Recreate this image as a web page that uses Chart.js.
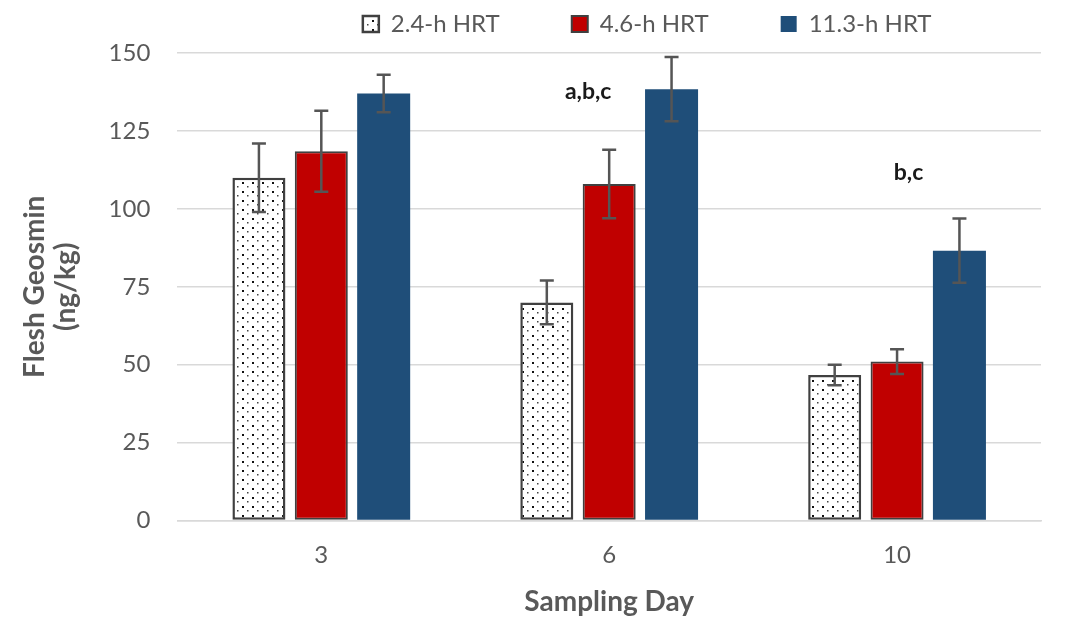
<!DOCTYPE html>
<html>
<head>
<meta charset="utf-8">
<script src="https://cdn.jsdelivr.net/npm/chart.js@4.4.1/dist/chart.umd.min.js"></script>
<style>
  html, body { margin: 0; padding: 0; background: #fff; }
  #wrap { width: 1077px; height: 620px; }
</style>
</head>
<body>
<div id="wrap"><canvas id="chart"></canvas></div>
<script>
// data
const days = ['3', '6', '10'];
const seriesNames = ['2.4-h HRT', '4.6-h HRT', '11.3-h HRT'];
const hrt24 = [110, 70, 46.7];
const hrt46 = [118.5, 108, 51];
const hrt113 = [137, 138.4, 86.6];
const err24 = [11, 7, 3.3];
const err46 = [13, 11, 4];
const err113 = [6, 10.3, 10.3];
const yTicks = [0, 25, 50, 75, 100, 125, 150];
// significance letters: text, category position, y value
const sigText = ['a,b,c', 'b,c'];
const sigPos = [0.927, 2.04];
const sigVal = [137.5, 111.7];

const grey = '#595959';

// dotted fill for the 2.4-h bars
function dotPattern() {
  const c = document.createElement('canvas');
  c.width = 10; c.height = 9;
  const g = c.getContext('2d');
  g.fillStyle = '#fff';
  g.fillRect(0, 0, 10, 9);
  g.fillStyle = '#111';
  g.fillRect(2, 2, 2, 2);
  g.fillStyle = '#444';
  g.fillRect(7, 6, 1.5, 1.5);
  return g.createPattern(c, 'repeat');
}
const dots = dotPattern();

// nudge the legend: it sits right of centre and a little higher in the original
const legendNudge = {
  id: 'legendNudge',
  afterLayout(chart) {
    const lg = chart.legend;
    lg.left += 38; lg.right += 38;
    lg.top -= 7; lg.bottom -= 7;
  }
};

const errorBars = {
  id: 'errorBars',
  afterDatasetsDraw(chart) {
    const ctx = chart.ctx;
    const y = chart.scales.y;
    const errs = [err24, err46, err113];
    ctx.save();
    ctx.strokeStyle = '#555';
    ctx.lineWidth = 2.5;
    chart.data.datasets.forEach((ds, i) => {
      chart.getDatasetMeta(i).data.forEach((bar, j) => {
        const v = ds.data[j], e = errs[i][j];
        const top = y.getPixelForValue(v + e);
        const bot = y.getPixelForValue(v - e);
        ctx.beginPath();
        ctx.moveTo(bar.x, top); ctx.lineTo(bar.x, bot);
        ctx.moveTo(bar.x - 7, top); ctx.lineTo(bar.x + 7, top);
        ctx.moveTo(bar.x - 7, bot); ctx.lineTo(bar.x + 7, bot);
        ctx.stroke();
      });
    });
    ctx.restore();
  }
};

const sigLabels = {
  id: 'sigLabels',
  afterDraw(chart) {
    const ctx = chart.ctx;
    ctx.save();
    ctx.font = 'bold 23px Lato';
    ctx.fillStyle = '#1a1a1a';
    ctx.textAlign = 'center';
    ctx.textBaseline = 'middle';
    sigText.forEach((t, i) => {
      ctx.fillText(t, chart.scales.x.getPixelForValue(sigPos[i]), chart.scales.y.getPixelForValue(sigVal[i]));
    });
    ctx.restore();
  }
};

new Chart(document.getElementById('chart'), {
  type: 'bar',
  data: {
    labels: days,
    datasets: [
      { label: seriesNames[0], data: hrt24, backgroundColor: dots, borderColor: '#404040', borderWidth: 2.5, borderSkipped: false },
      { label: seriesNames[1], data: hrt46, backgroundColor: '#C00000', borderColor: '#404040', borderWidth: 2, borderSkipped: false },
      { label: seriesNames[2], data: hrt113, backgroundColor: '#1F4E79', borderWidth: 0 }
    ]
  },
  options: {
    responsive: true,
    maintainAspectRatio: false,
    animation: false,
    datasets: { bar: { categoryPercentage: 0.65, barPercentage: 0.85 } },
    layout: { padding: { left: 16, right: 36, top: -53, bottom: -3 } },
    plugins: {
      legend: {
        position: 'top',
        fullSize: false,
        labels: {
          boxWidth: 16, boxHeight: 16, padding: 72,
          color: grey,
          font: { family: 'Lato', size: 24 }
        }
      },
      tooltip: { enabled: false }
    },
    scales: {
      x: {
        grid: { display: false },
        border: { display: true, color: '#d9d9d9', width: 1.5 },
        ticks: { color: grey, font: { family: 'Lato', size: 24 }, padding: 12 },
        title: { display: true, text: 'Sampling Day', color: grey, font: { family: 'Lato', size: 28, weight: 'bold' }, padding: { top: 4 } }
      },
      y: {
        min: 0, max: 150,
        afterBuildTicks: axis => { axis.ticks = yTicks.map(v => ({ value: v })); },
        grid: { color: '#d9d9d9', lineWidth: 1.5, drawTicks: false },
        border: { display: false },
        ticks: { color: grey, font: { family: 'Lato', size: 24 }, padding: 27 },
        title: { display: true, text: ['Flesh Geosmin', '(ng/kg)'], color: grey, font: { family: 'Lato', size: 28, weight: 'bold', lineHeight: 1.1 }, padding: { bottom: 0 } }
      }
    }
  },
  plugins: [legendNudge, errorBars, sigLabels]
});
</script>
</body>
</html>
